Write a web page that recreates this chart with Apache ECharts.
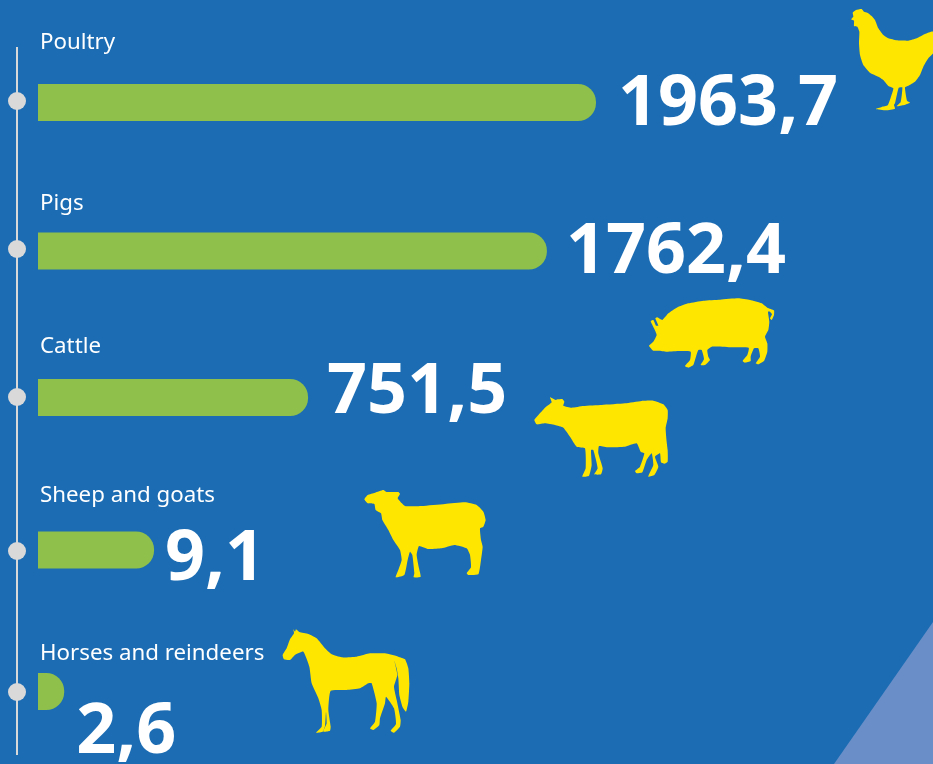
<!DOCTYPE html>
<html>
<head>
<meta charset="utf-8">
<title>Livestock</title>
<script src="https://cdn.jsdelivr.net/npm/echarts@6/dist/echarts.min.js"></script>
<style>
html, body { margin: 0; padding: 0; background: #1b6cb3; }
#main { width: 933px; height: 764px; }
</style>
</head>
<body>
<div id="main"></div>
<script>
var categories = ['Poultry', 'Pigs', 'Cattle', 'Sheep and goats', 'Horses and reindeers'];
var values = ['1963,7', '1762,4', '751,5', '9,1', '2,6'];
// the picture is not to scale, so bar length is read off separately (% of longest bar)
var barLengths = [100, 91.2, 48.4, 20.8, 4.7];

/*** layout of each row, in page pixels **/
var rowCenters = [102.5, 251, 397.5, 550, 691.5];
var dotCenters = [101, 249, 397, 551, 692];
var nameCenters = [43, 204, 347, 496, 654];
var labelDistance = [22, 19, 19, 11, 12];
var labelOffsetY = [3, 2, -4, 10, 42];

var BAR_LEFT = 38;
var BAR_MAX_WIDTH = 558;
var BAR_HEIGHT = 37;

/*** silhouettes, traced in 3x crops: [left, top, points] **/
var animals = [
	[780, 0, [[213,58],[220,50],[218,38],[228,30],[245,27],[252,35],[262,38],[275,48],[285,60],[295,85],[310,105],[325,115],[350,121],[385,122],[410,115],[435,102],[459,95],[459,160],[445,175],[430,200],[420,225],[405,245],[385,257],[375,262],[381,302],[390,308],[372,315],[350,319],[362,306],[367,262],[356,263],[345,310],[342,315],[345,326],[318,331],[288,327],[305,321],[323,316],[332,293],[340,265],[325,258],[310,240],[295,230],[270,218],[250,195],[240,165],[237,130],[238,95],[232,80],[222,78],[222,62]]],
	[630, 285, [[57,182],[70,170],[80,150],[72,130],[62,108],[70,105],[78,122],[85,122],[76,100],[82,97],[97,105],[115,85],[140,68],[175,55],[220,47],[270,44],[325,40],[360,45],[395,55],[412,68],[432,76],[432,90],[425,105],[420,100],[426,88],[420,80],[414,80],[418,110],[415,135],[405,155],[412,175],[412,200],[402,228],[385,238],[377,235],[390,215],[385,190],[372,190],[362,215],[362,228],[345,233],[338,228],[352,210],[356,188],[300,187],[245,185],[232,195],[235,215],[240,225],[225,240],[212,240],[222,222],[215,195],[205,195],[195,225],[190,240],[175,248],[165,243],[180,225],[182,200],[150,198],[110,200],[85,197],[70,197]]],
	[525, 385, [[28,105],[40,90],[60,68],[80,52],[75,37],[92,45],[100,43],[112,42],[118,50],[115,62],[140,68],[175,63],[230,60],[300,55],[350,48],[385,47],[415,58],[428,75],[428,100],[422,130],[425,170],[428,195],[428,230],[418,236],[408,232],[405,205],[390,215],[400,245],[388,270],[370,275],[375,262],[385,240],[380,205],[365,225],[352,262],[335,265],[330,258],[345,245],[358,205],[347,200],[335,175],[300,185],[250,187],[222,183],[220,205],[233,250],[228,268],[208,268],[218,250],[205,195],[198,195],[200,240],[192,272],[172,275],[182,250],[180,190],[155,185],[135,155],[115,128],[90,120],[60,115],[35,118]]],
	[355, 480, [[28,58],[38,45],[60,38],[85,30],[95,36],[130,36],[135,42],[128,55],[150,78],[200,78],[270,72],[330,67],[365,75],[385,95],[392,120],[385,140],[375,145],[378,180],[383,200],[378,240],[370,283],[340,285],[335,280],[348,262],[345,225],[335,205],[298,195],[260,205],[220,207],[192,198],[185,225],[192,265],[197,290],[176,292],[178,280],[172,225],[165,215],[158,240],[148,285],[122,292],[130,270],[140,240],[135,210],[115,180],[100,150],[82,120],[78,100],[62,90],[58,72],[38,70]]],
	[270, 620, [[38,105],[50,85],[60,58],[72,40],[70,28],[75,35],[78,28],[88,36],[115,42],[140,55],[165,85],[185,103],[215,112],[260,110],[300,100],[345,100],[385,110],[405,118],[415,145],[418,190],[415,245],[408,275],[398,262],[388,225],[385,175],[380,145],[373,122],[382,165],[372,200],[380,240],[392,300],[390,320],[372,338],[362,332],[378,312],[372,265],[348,230],[345,250],[330,295],[328,315],[310,330],[300,325],[315,305],[320,250],[305,190],[295,190],[270,205],[230,210],[182,212],[175,270],[182,320],[180,332],[160,335],[170,310],[168,275],[165,318],[158,335],[138,338],[155,320],[155,270],[145,235],[125,190],[118,140],[100,95],[75,105],[60,120],[42,118]]]
];

var grids = [], xAxes = [], yAxes = [], series = [], graphics = [];

// one grid per row because the rows are not evenly spaced
categories.forEach(function(name, i) {
	grids.push({ left: BAR_LEFT, width: BAR_MAX_WIDTH, top: rowCenters[i] - BAR_HEIGHT / 2, height: BAR_HEIGHT });
	xAxes.push({ gridIndex: i, type: 'value', min: 0, max: 100, show: false });
	yAxes.push({ gridIndex: i, type: 'category', data: [name], show: false });
	series.push({
		type: 'bar',
		xAxisIndex: i,
		yAxisIndex: i,
		data: [barLengths[i]],
		barWidth: BAR_HEIGHT,
		itemStyle: { color: '#8fc04b', borderRadius: [0, 18, 18, 0] },
		label: {
			show: true,
			position: 'right',
			distance: labelDistance[i],
			offset: [0, labelOffsetY[i]],
			formatter: values[i],
			color: '#fff',
			fontFamily: 'Noto Sans',
			fontWeight: 'bold',
			fontSize: 70
		},
		silent: true
	});
});

// light triangle in the corner
graphics.push({
	type: 'polygon',
	z: 0,
	shape: { points: [[834, 764], [933, 622], [933, 764]] },
	style: { fill: '#6a8fc8' }
});

// timeline
graphics.push({
	type: 'line',
	z: 1,
	shape: { x1: 17, y1: 47, x2: 17, y2: 755 },
	style: { stroke: '#d9d9d9', lineWidth: 2 }
});
dotCenters.forEach(function(cy) {
	graphics.push({
		type: 'circle',
		z: 2,
		shape: { cx: 17, cy: cy, r: 9 },
		style: { fill: '#d9d9d9' }
	});
});

categories.forEach(function(name, i) {
	graphics.push({
		type: 'text',
		z: 3,
		x: 40,
		y: nameCenters[i],
		style: {
			text: name,
			fill: '#fff',
			font: '22.3px "Noto Sans"',
			textVerticalAlign: 'middle'
		}
	});
});

animals.forEach(function(a) {
	var points = a[2].map(function(p) {
		return [a[0] + p[0] / 3, a[1] + p[1] / 3];
	});
	graphics.push({
		type: 'polygon',
		z: 4,
		shape: { points: points, smooth: 0.15 },
		style: { fill: '#ffe600' }
	});
});

var myChart = echarts.init(document.getElementById('main'));
myChart.setOption({
	animation: false,
	backgroundColor: '#1b6cb3',
	grid: grids,
	xAxis: xAxes,
	yAxis: yAxes,
	series: series,
	graphic: graphics
});
</script>
</body>
</html>
